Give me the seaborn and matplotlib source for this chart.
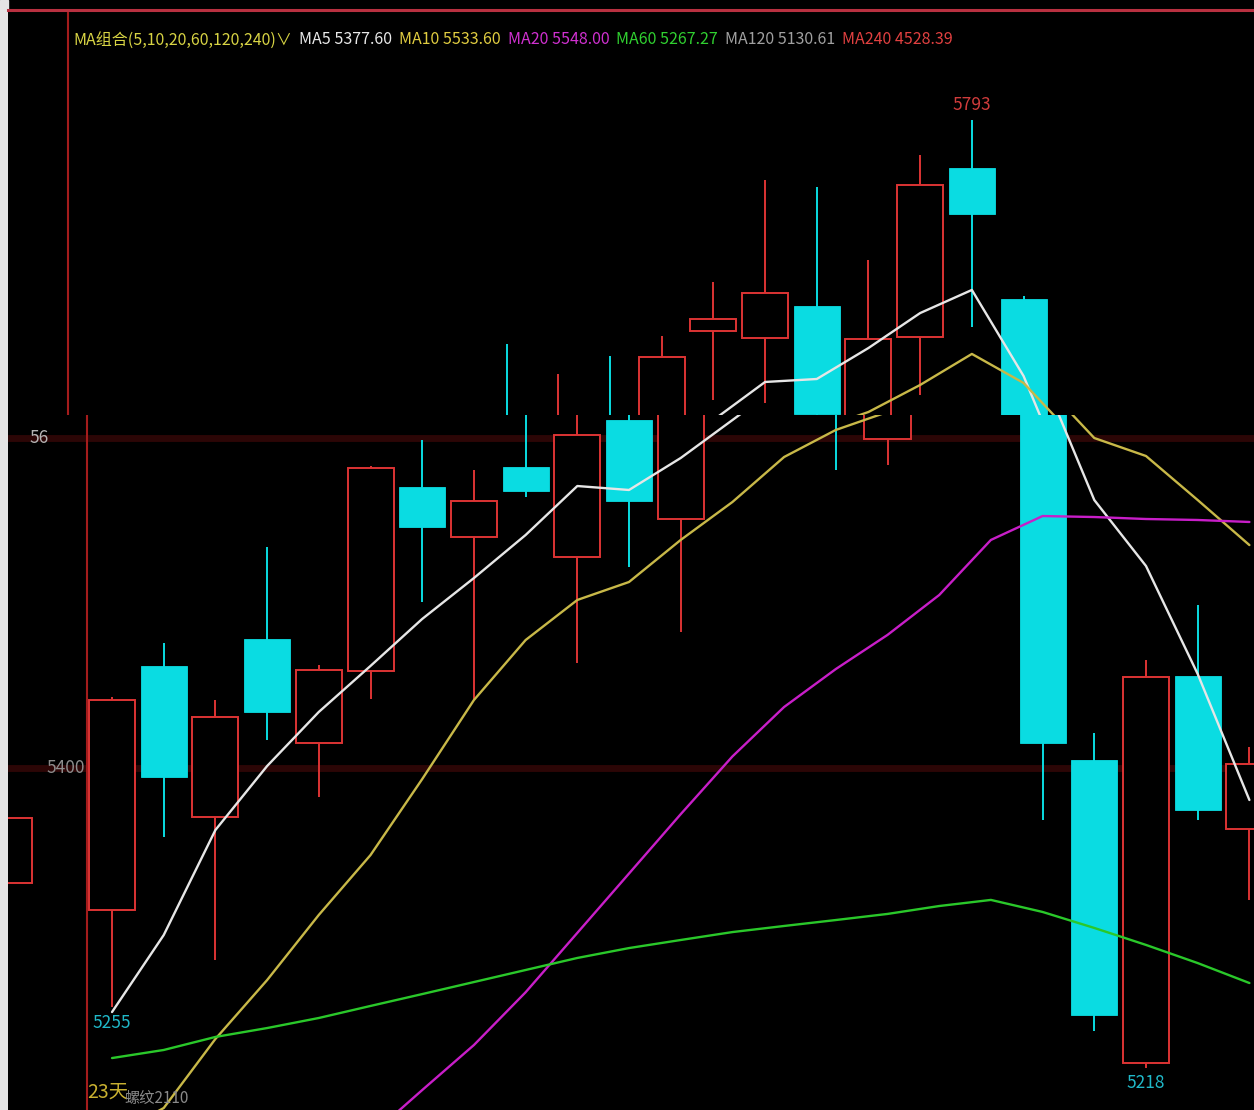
import numpy as np
import pandas as pd
import matplotlib
matplotlib.use("Agg")
import matplotlib.pyplot as plt
from matplotlib.patches import Rectangle
import seaborn as sns

nan = np.nan

# K线序号（-1 位置截图里没有K线）
bar_idx = list(range(-2, 23))
opens = [5330.3, nan, 5313.9, 5461.9, 5370.3, 5478.2, 5415.2, 5458.8, 5570.4, 5540.1,
         5582.5, 5528.0, 5611.0, 5551.0, 5665.0, 5660.8, 5680.2, 5599.5, 5661.4, 5763.9,
         5684.4, 5404.9, 5221.1, 5455.8, 5363.0]
closes = [5369.7, nan, 5441.2, 5394.5, 5430.9, 5433.7, 5459.4, 5581.9, 5546.1, 5561.9,
          5568.0, 5601.9, 5561.9, 5649.2, 5672.3, 5688.0, 5614.5, 5660.2, 5753.5, 5736.0,
          5415.2, 5250.2, 5455.2, 5374.5, 5402.4]
highs = [5369.7, nan, 5443.1, 5475.8, 5441.2, 5534.0, 5462.5, 5583.1, 5598.9, 5580.7,
         5657.1, 5638.9, 5649.8, 5662.0, 5694.7, 5756.6, 5752.3, 5708.1, 5771.7, 5793.0,
         5686.2, 5421.2, 5465.5, 5498.8, 5412.7]
lows = [5330.3, nan, 5255.0, 5358.2, 5283.6, 5417.0, 5382.4, 5441.8, 5500.7, 5441.2,
        5564.3, 5463.7, 5521.9, 5482.5, 5623.2, 5621.3, 5580.7, 5583.7, 5626.2, 5667.4,
        5368.5, 5240.5, 5218.0, 5368.5, 5320.0]

# 均线
ma5 = [nan, nan, 5252.0, 5298.7, 5362.4, 5401.2, 5434.0, 5461.9, 5490.4, 5515.2,
       5541.3, 5571.0, 5568.6, 5588.0, 5611.0, 5634.1, 5635.9, 5654.7, 5675.9, 5689.9,
       5637.7, 5562.5, 5522.5, 5457.0, 5380.6]
ma10 = [nan, nan, 5176.6, 5193.8, 5235.7, 5271.4, 5310.9, 5347.2, 5393.3, 5441.2,
        5477.6, 5501.9, 5512.8, 5538.3, 5561.3, 5588.6, 5605.0, 5615.9, 5632.3, 5651.1,
        5633.5, 5600.1, 5589.2, 5562.5, 5535.2]
ma20 = [nan, nan, nan, nan, nan, nan, nan, 5177.0, 5204.7, 5232.0,
        5264.0, 5300.0, 5336.0, 5372.0, 5407.0, 5437.0, 5460.0, 5480.7, 5504.9, 5538.3,
        5552.8, 5552.2, 5551.0, 5550.4, 5549.2]
ma60 = [nan, nan, 5224.1, 5229.0, 5236.9, 5242.3, 5248.4, 5255.7, 5262.9, 5270.2,
        5277.5, 5284.8, 5290.8, 5295.7, 5300.5, 5304.2, 5307.8, 5311.5, 5316.3, 5320.0,
        5312.7, 5303.0, 5292.7, 5281.7, 5269.6]

ma_names = ["MA5", "MA10", "MA20", "MA60"]
ma_colors = {"MA5": "#e6e6e6", "MA10": "#c8b848", "MA20": "#c81ec8", "MA60": "#2ac82a"}

legend_labels = ["MA组合(5,10,20,60,120,240)∨", "MA5 5377.60", "MA10 5533.60",
                 "MA20 5548.00", "MA60 5267.27", "MA120 5130.61", "MA240 4528.39"]
legend_colors = ["#d8d444", "#e8e8e8", "#e0cc40", "#d030d0", "#30d030", "#a0a0a0", "#e04040"]

grid_levels = [5600, 5400]

UP = "#dc3434"
DOWN = "#0adce2"
BODY_W = 0.89

sns.set_style("dark", {"axes.facecolor": "black", "figure.facecolor": "black"})
plt.rcParams["font.family"] = ["Noto Sans CJK SC", "DejaVu Sans"]

ma_df = pd.DataFrame({
    "idx": bar_idx * 4,
    "price": ma5 + ma10 + ma20 + ma60,
    "ma": sum([[n] * len(bar_idx) for n in ma_names], []),
}).dropna()


def draw_chart(ax):
    for lv in grid_levels:
        ax.axhline(lv, color="#2c0606", lw=5, zorder=0)
    ax.axvline(-0.484, color="#a41c1c", lw=1.5, zorder=1)

    for i, o, c, h, l in zip(bar_idx, opens, closes, highs, lows):
        if np.isnan(o):
            continue
        if c >= o:
            ax.vlines(i, c, h, color=UP, lw=1.4, zorder=2)
            ax.vlines(i, l, o, color=UP, lw=1.4, zorder=2)
            ax.bar(i, c - o, bottom=o, width=BODY_W, facecolor="black",
                   edgecolor=UP, linewidth=1.4, zorder=2)
        else:
            ax.vlines(i, l, h, color=DOWN, lw=1.4, zorder=2)
            ax.bar(i, o - c, bottom=c, width=BODY_W, color=DOWN,
                   edgecolor=DOWN, linewidth=0.6, zorder=2.1)

    sns.lineplot(data=ma_df, x="idx", y="price", hue="ma", hue_order=ma_names,
                 palette=ma_colors, estimator=None, sort=False, legend=False,
                 lw=1.7, zorder=3, ax=ax)
    ax.set_xlabel("")
    ax.set_ylabel("")
    ax.set_xticks([])
    ax.set_yticks([])
    for sp in ax.spines.values():
        sp.set_visible(False)


fig = plt.figure(figsize=(12.54, 11.10), dpi=100)
fig.add_artist(Rectangle((0, 0), 8 / 1254, 1, transform=fig.transFigure,
                         color="#e4e4e4", zorder=0))

# 截图上半部分整体左移了约19像素，分两块画
ax_top = fig.add_axes([8 / 1254, 695 / 1110, 1246 / 1254, 405 / 1110])
ax_bot = fig.add_axes([8 / 1254, 0, 1246 / 1254, 695 / 1110])

draw_chart(ax_top)
draw_chart(ax_bot)

ax_top.set_xlim(-1.644, 22.457)
ax_top.set_ylim(5614.07, 5859.67)
ax_bot.set_xlim(-2.012, 22.089)
ax_bot.set_ylim(5192.60, 5614.07)

ax_top.spines["top"].set_visible(True)
ax_top.spines["top"].set_color("#b83040")
ax_top.spines["top"].set_linewidth(2.2)

# 均线图例：依次排开，避免重叠
fig.canvas.draw()
renderer = fig.canvas.get_renderer()
legend_x = [73, 292, 390, 499, 606, 713, 829]
prev_end = 0
for s, col, px in zip(legend_labels, legend_colors, legend_x):
    x0 = max(px, prev_end + 7)
    t = ax_top.text((x0 - 8) / 1246, 0.926, s, color=col, fontsize=11.5,
                    ha="left", va="center", transform=ax_top.transAxes)
    prev_end = t.get_window_extent(renderer=renderer).x1

# 最高、最低价标注
ax_top.annotate("5793", xy=(17, 5793), xytext=(0, 7), textcoords="offset points",
                ha="center", va="baseline", color="#d03c3c", fontsize=12.5)
ax_bot.annotate("5255", xy=(0, 5255), xytext=(0, -5), textcoords="offset points",
                ha="center", va="top", color="#20b8c8", fontsize=12.5)
ax_bot.annotate("5218", xy=(20, 5218), xytext=(0, -4), textcoords="offset points",
                ha="center", va="top", color="#20b8c8", fontsize=12.5)

# 左侧价格刻度
ax_bot.text(-0.53, 5400, "5400", color="#8c8c8c", fontsize=12.5, ha="right", va="center")
ax_bot.text(-1.22, 5600, "56", color="#b4b4b4", fontsize=12.5, ha="right", va="center")

ax_bot.text((87 - 8) / 1246, 0.018, "23天", color="#c8b030", fontsize=14,
            ha="left", va="baseline", transform=ax_bot.transAxes)
ax_bot.text((124 - 8) / 1246, 0.004, "螺纹2110", color="#8a8a8a", fontsize=11,
            ha="left", va="bottom", transform=ax_bot.transAxes)

fig.savefig("out.png", dpi=100, facecolor=fig.get_facecolor())
